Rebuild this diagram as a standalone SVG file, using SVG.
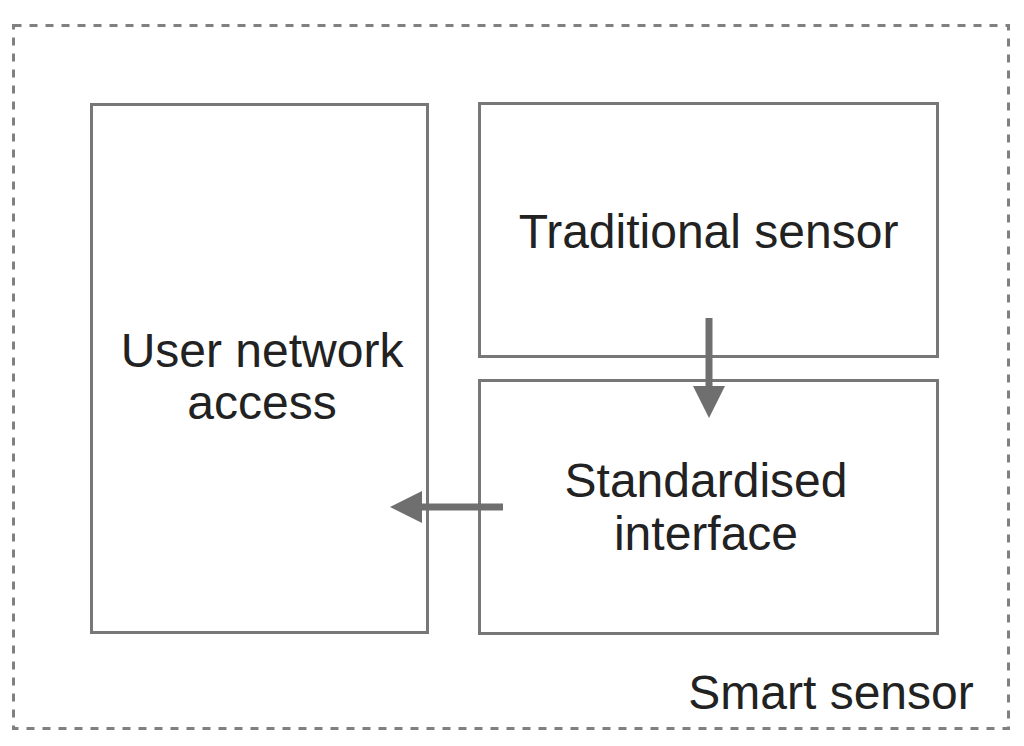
<svg xmlns="http://www.w3.org/2000/svg" width="1024" height="746" viewBox="0 0 1024 746">
<defs>
<style>
.box{fill:#fff;stroke:#777;stroke-width:3}
.lbl{font-family:"Liberation Sans",Arial,sans-serif;font-size:48px;fill:#222;text-anchor:middle}
.conn{stroke:#6f6f6f;stroke-width:7;fill:none}
.head{fill:#6f6f6f}
</style>
</defs>
<rect width="1024" height="746" fill="#fff"/>
<g id="smart-sensor">
<rect x="13.5" y="25.5" width="995" height="703" fill="none" stroke="#808080" stroke-width="3" stroke-dasharray="8 8"/>
<text class="lbl" x="831" y="709">Smart sensor</text>
</g>
<g id="user-network-access">
<rect class="box" x="91.5" y="104.5" width="336" height="528"/>
<text class="lbl" x="262" y="367">User network</text>
<text class="lbl" x="262" y="419">access</text>
</g>
<g id="traditional-sensor">
<rect class="box" x="479.5" y="103.5" width="458" height="253"/>
<text class="lbl" x="708.5" y="248">Traditional sensor</text>
</g>
<g id="standardised-interface">
<rect class="box" x="479.5" y="380.5" width="458" height="253"/>
<text class="lbl" x="706" y="497">Standardised</text>
<text class="lbl" x="706" y="550">interface</text>
</g>
<g id="connectors">
<line class="conn" x1="709" y1="318" x2="709" y2="388"/>
<polygon class="head" points="693,386 725,386 709,418"/>
<line class="conn" x1="503" y1="507" x2="420" y2="507"/>
<polygon class="head" points="422,491 422,523 390,507"/>
</g>
</svg>
